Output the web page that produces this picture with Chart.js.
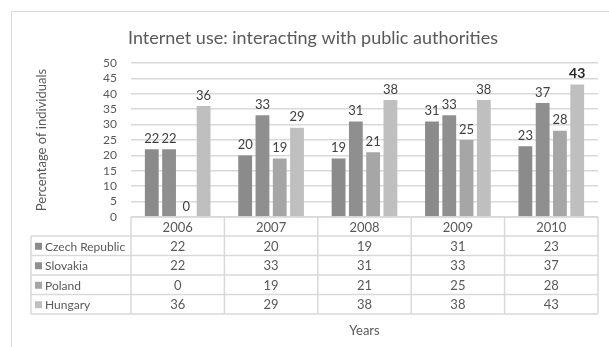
<!DOCTYPE html>
<html>
<head>
<meta charset="utf-8">
<script src="https://cdn.jsdelivr.net/npm/chart.js@4"></script>
<style>
  html, body { margin: 0; padding: 0; background: #fff; }
  #wrap { width: 609px; height: 347px; }
</style>
</head>
<body>
<div id="wrap"><canvas id="chart" width="609" height="347"></canvas></div>
<script>
const years = ["2006", "2007", "2008", "2009", "2010"];
const czech = [22, 20, 19, 31, 23];
const slovakia = [22, 33, 31, 33, 37];
const poland = [0, 19, 21, 25, 28];
const hungary = [36, 29, 38, 38, 43];
const yTicks = [0, 5, 10, 15, 20, 25, 30, 35, 40, 45, 50];

const seriesNames = ["Czech Republic", "Slovakia", "Poland", "Hungary"];
const seriesColors = ["#8b8b8b", "#8f8f8f", "#a6a6a6", "#bfbfbf"];

const FONT = "Lato, 'Open Sans', sans-serif";
const TEXT = "#595959";
const LINE = "#d9d9d9";

// border, title, y title, data labels, data table
const extras = {
  id: "extras",
  afterDraw(chart) {
    const c = chart.ctx;
    const area = chart.chartArea;
    const x = chart.scales.x;
    c.save();

    // outer frame
    c.strokeStyle = LINE;
    c.lineWidth = 1;
    c.beginPath();
    c.moveTo(11.5, 347);
    c.lineTo(11.5, 11.5);
    c.lineTo(609, 11.5);
    c.stroke();

    // title
    c.fillStyle = TEXT;
    c.font = "18px " + FONT;
    c.textAlign = "center";
    c.textBaseline = "alphabetic";
    c.fillText("Internet use: interacting with public authorities", 313, 44);

    // y title
    c.save();
    c.translate(42, 140);
    c.rotate(-Math.PI / 2);
    c.font = "13px " + FONT;
    c.textBaseline = "middle";
    c.fillText("Percentage of individuals", 0, 0);
    c.restore();

    // data labels
    c.textBaseline = "bottom";
    chart.data.datasets.forEach((ds, i) => {
      chart.getDatasetMeta(i).data.forEach((bar, j) => {
        const big = i === 3 && j === 4;
        c.font = (big ? "bold 14px " : "13px ") + FONT;
        c.fillStyle = big ? "#262626" : "#404040";
        c.fillText(String(ds.data[j]), bar.x, bar.y - 4);
      });
    });

    // data table
    const colW = (area.right - area.left) / years.length;
    const top = area.bottom;
    const headH = 19;
    const rowH = 19.5;
    const left = 31;
    const bottom = top + headH + rowH * seriesNames.length;

    c.strokeStyle = LINE;
    c.lineWidth = 1.5;
    c.beginPath();
    c.moveTo(area.left, top); c.lineTo(area.right, top);
    for (let r = 0; r <= seriesNames.length; r++) {
      const yy = top + headH + r * rowH;
      c.moveTo(left, yy); c.lineTo(area.right, yy);
    }
    c.moveTo(left, top + headH); c.lineTo(left, bottom);
    for (let k = 0; k <= years.length; k++) {
      const xx = area.left + k * colW;
      c.moveTo(xx, top); c.lineTo(xx, bottom);
    }
    c.stroke();

    c.font = "13px " + FONT;
    c.fillStyle = TEXT;
    c.textAlign = "center";
    c.textBaseline = "middle";
    years.forEach((yr, k) => {
      c.fillText(yr, x.getPixelForValue(k), top + headH / 2 + 1);
    });
    chart.data.datasets.forEach((ds, r) => {
      const cy = top + headH + r * rowH + rowH / 2 + 1;
      c.fillStyle = seriesColors[r];
      c.fillRect(left + 4, cy - 4, 7, 7);
      c.fillStyle = TEXT;
      c.textAlign = "left";
      c.font = "12px " + FONT;
      c.fillText(seriesNames[r], left + 14, cy);
      c.textAlign = "center";
      c.font = "13px " + FONT;
      ds.data.forEach((v, k) => {
        c.fillText(String(v), x.getPixelForValue(k), cy);
      });
    });

    // x title
    c.fillText("Years", (area.left + area.right) / 2, 331);
    c.restore();
  }
};

new Chart(document.getElementById("chart"), {
  type: "bar",
  data: {
    labels: years,
    datasets: [
      { label: seriesNames[0], data: czech, backgroundColor: seriesColors[0] },
      { label: seriesNames[1], data: slovakia, backgroundColor: seriesColors[1] },
      { label: seriesNames[2], data: poland, backgroundColor: seriesColors[2] },
      { label: seriesNames[3], data: hungary, backgroundColor: seriesColors[3] }
    ]
  },
  options: {
    responsive: false,
    animation: false,
    layout: { padding: { left: 0, right: 11, top: 63, bottom: 130 } },
    datasets: { bar: { categoryPercentage: 0.74, barPercentage: 0.8 } },
    plugins: { legend: { display: false }, tooltip: { enabled: false } },
    scales: {
      x: { display: false },
      y: {
        min: 0,
        max: 50,
        afterFit(s) { s.width = 131; },
        afterBuildTicks(s) { s.ticks = yTicks.map(v => ({ value: v })); },
        border: { display: false },
        grid: { color: LINE, lineWidth: 1.5, drawTicks: false },
        ticks: { color: TEXT, font: { family: FONT, size: 12 }, padding: 14, autoSkip: false, stepSize: 5 }
      }
    }
  },
  plugins: [extras]
});
</script>
</body>
</html>
